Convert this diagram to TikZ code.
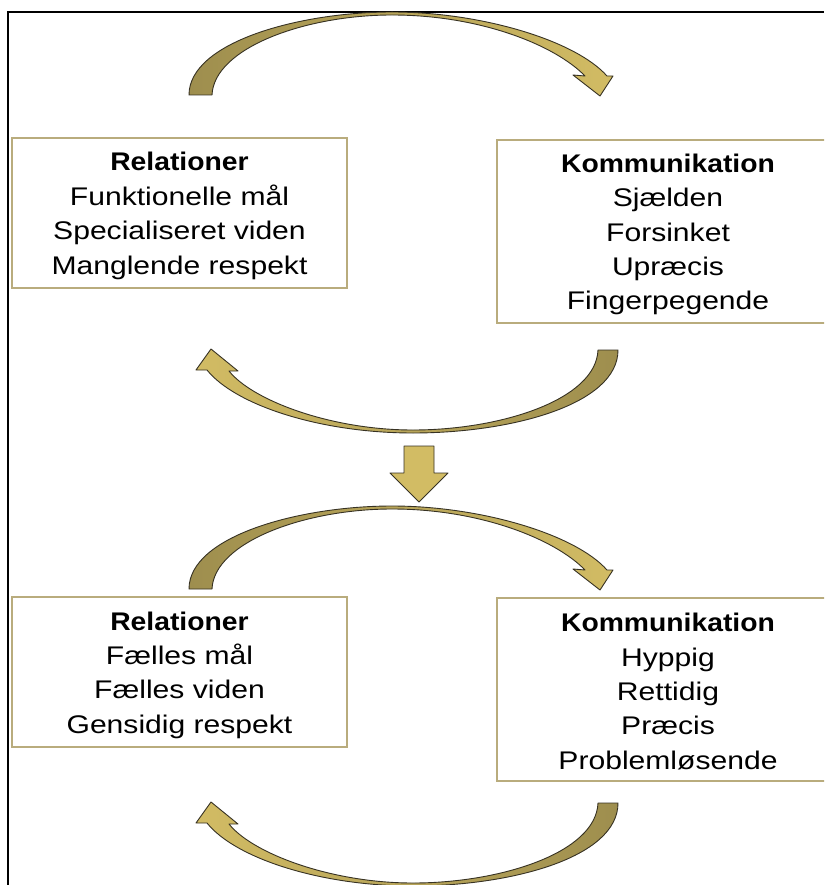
\documentclass[tikz,border=0pt]{standalone}
\usepackage{fontspec}
\setmainfont[FakeStretch=1.18, BoldFeatures={FakeStretch=1.11}]{Liberation Sans}
\definecolor{arrdark}{RGB}{158,142,78}
\definecolor{arrlight}{RGB}{210,188,100}
\definecolor{arrline}{RGB}{55,50,35}
\definecolor{boxline}{RGB}{185,172,125}
\tikzset{
  bandarrow/.style={draw=arrline, line width=0.9pt, line join=round},
  box/.style={draw=boxline, line width=1.6pt, fill=white, inner sep=0pt},
  boxtext/.style={inner sep=0pt, align=center, font=\fontsize{25.5}{34.4}\selectfont},
  frameline/.style={black, line width=2pt}
}
\begin{document}
\begin{tikzpicture}[x=1pt,y=-1pt]
\useasboundingbox (0,0) rectangle (824,885);
\clip (0,0) rectangle (824,885);
\fill[white] (0,0) rectangle (824,885);
\draw[frameline] (8,885) -- (8,12) -- (824,12);

% boxes
\node[box, minimum width=335pt, minimum height=150pt] (rel1) at (179.5,213) {};
\node[boxtext] (rel1t) at ([yshift=-3pt]rel1.center)
  {\textbf{Relationer}\\Funktionelle mål\\Specialiseret viden\\Manglende respekt};
\node[box, minimum width=342pt, minimum height=183pt] (kom1) at (668,231.5) {};
\node[boxtext] (kom1t) at ([yshift=-3pt]kom1.center)
  {\textbf{Kommunikation}\\Sjælden\\Forsinket\\Upræcis\\Fingerpegende};
\node[box, minimum width=335pt, minimum height=150pt] (rel2) at (179.5,672) {};
\node[boxtext] (rel2t) at ([yshift=-3pt]rel2.center)
  {\textbf{Relationer}\\Fælles mål\\Fælles viden\\Gensidig respekt};
\node[box, minimum width=342pt, minimum height=183pt] (kom2) at (668,689.5) {};
\node[boxtext] (kom2t) at ([yshift=-2pt]kom2.center)
  {\textbf{Kommunikation}\\Hyppig\\Rettidig\\Præcis\\Problemløsende};

% arc 1 (top, pointing right)
\path[bandarrow, left color=arrdark, right color=arrlight]
  (189,95) .. controls (189,42) and (300,12) .. (392,12)
  .. controls (480,12) and (575,40) .. (607,76)
  -- (613,76) -- (600,96) -- (573,75) -- (585,76)
  .. controls (555,45) and (480,15) .. (392,15)
  .. controls (305,15) and (214,48) .. (212,95) -- cycle;

% arc 2 (under top boxes, pointing left)
\path[bandarrow, left color=arrlight, right color=arrdark]
  (618,350) .. controls (618,405) and (510,433) .. (413,433)
  .. controls (320,433) and (235,405) .. (207,370)
  -- (196,370) -- (211,349) -- (238,371) -- (229,371)
  .. controls (252,400) and (330,430) .. (413,430)
  .. controls (500,430) and (596,400) .. (598,350) -- cycle;

% down arrow
\draw[bandarrow, fill=arrlight]
  (404,446) -- (434,446) -- (434,473) -- (448,473) -- (419,502) -- (390,473) -- (404,473) -- cycle;

% arc 3 (above bottom boxes, pointing right)
\begin{scope}[yshift=-494pt]
\path[bandarrow, left color=arrdark, right color=arrlight]
  (189,95) .. controls (189,42) and (300,12) .. (392,12)
  .. controls (480,12) and (575,40) .. (607,76)
  -- (613,76) -- (600,96) -- (573,75) -- (585,76)
  .. controls (555,45) and (480,15) .. (392,15)
  .. controls (305,15) and (214,48) .. (212,95) -- cycle;
\end{scope}

% arc 4 (bottom, pointing left)
\begin{scope}[yshift=-453pt]
\path[bandarrow, left color=arrlight, right color=arrdark]
  (618,350) .. controls (618,405) and (510,433) .. (413,433)
  .. controls (320,433) and (235,405) .. (207,370)
  -- (196,370) -- (211,349) -- (238,371) -- (229,371)
  .. controls (252,400) and (330,430) .. (413,430)
  .. controls (500,430) and (596,400) .. (598,350) -- cycle;
\end{scope}
\end{tikzpicture}
\end{document}
